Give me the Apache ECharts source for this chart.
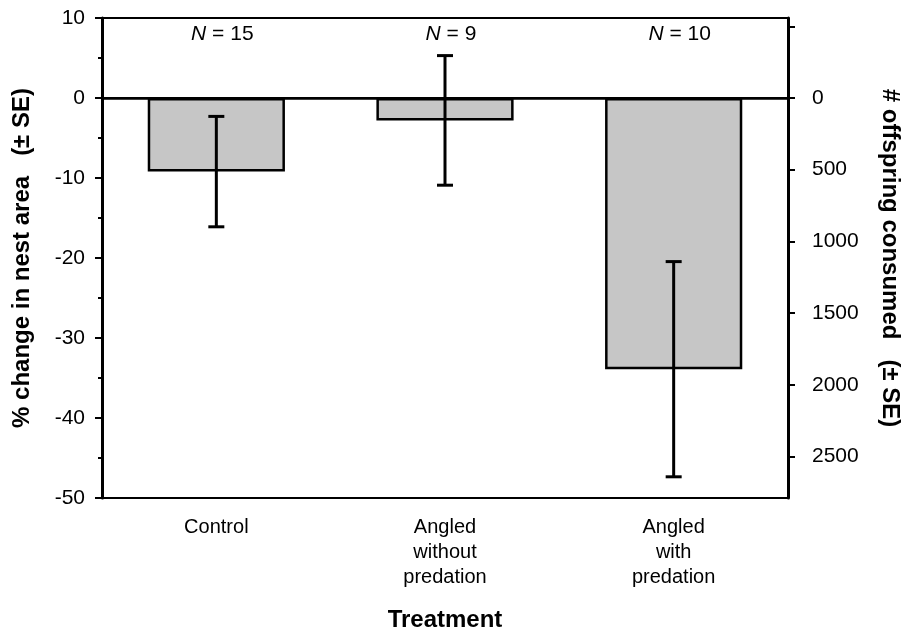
<!DOCTYPE html>
<html>
<head>
<meta charset="utf-8">
<script src="https://cdn.jsdelivr.net/npm/echarts@6/dist/echarts.min.js"></script>
<style>
  html, body { margin: 0; padding: 0; background: #fff; }
  #chart { width: 907px; height: 629px; }
</style>
</head>
<body>
<div id="chart"></div>
<script>
// data
const categories = ['Control', 'Angled\nwithout\npredation', 'Angled\nwith\npredation']
const meanChange = [-9.2, -2.8, -33.9]
const seChange = [6.9, 8.1, 13.45]
const sampleSizes = [15, 9, 10]
const rightLabels = [0, 500, 1000, 1500, 2000, 2500]
const rightTicks = [-500, 0, 500, 1000, 1500, 2000, 2500]

const font = 'Liberation Sans, Arial, Helvetica, sans-serif'

let chart = echarts.init(document.getElementById('chart'))

let errData = []
for (let i = 0; i < categories.length; i++) {
  errData.push([i, meanChange[i] - seChange[i], meanChange[i] + seChange[i]])
}
let nData = []
for (let i = 0; i < categories.length; i++) {
  nData.push([i, 8, sampleSizes[i]])
}

let option = {
  animation: false,
  textStyle: { fontFamily: font, color: '#000' },
  grid: {
    left: 102,
    right: 119,
    top: 18,
    bottom: 131,
    outerBoundsMode: 'none',
    containLabel: false,
    show: true,
    borderColor: '#000',
    borderWidth: 2
  },
  xAxis: {
    type: 'category',
    data: categories,
    name: 'Treatment',
    nameLocation: 'middle',
    nameGap: 110,
    nameTextStyle: { fontSize: 24, fontWeight: 'bold', color: '#000' },
    axisLine: { lineStyle: { color: '#000', width: 2.5 } },
    axisTick: { alignWithLabel: true, length: 7, lineStyle: { color: '#000', width: 2 } },
    axisLabel: { fontSize: 20, color: '#000', margin: 17, lineHeight: 25 }
  },
  yAxis: [
    {
      type: 'value',
      min: -50,
      max: 10,
      interval: 10,
      name: '% change in nest area   (± SE)',
      nameLocation: 'middle',
      nameGap: 68,
      nameRotate: 90,
      nameTextStyle: { fontSize: 24, fontWeight: 'bold', color: '#000' },
      axisLine: { show: true, lineStyle: { color: '#000', width: 3 } },
      axisTick: { show: true, length: 7, lineStyle: { color: '#000', width: 2 } },
      minorTick: { show: true, splitNumber: 2, length: 4, lineStyle: { color: '#000', width: 2 } },
      axisLabel: { fontSize: 21, color: '#000', margin: 17 },
      splitLine: { show: false }
    },
    {
      type: 'value',
      position: 'right',
      inverse: true,
      min: -558,
      max: 2790,
      name: '# offspring consumed   (± SE)',
      nameLocation: 'middle',
      nameGap: 90,
      nameRotate: -90,
      nameTextStyle: { fontSize: 24, fontWeight: 'bold', color: '#000' },
      axisLine: { show: true, lineStyle: { color: '#000', width: 3 } },
      axisTick: { show: true, length: 7, customValues: rightTicks, lineStyle: { color: '#000', width: 2 } },
      axisLabel: {
        fontSize: 21,
        color: '#000',
        margin: 24,
        customValues: rightLabels,
        formatter: function (v) { return String(v) }
      },
      splitLine: { show: false }
    }
  ],
  series: [
    {
      type: 'bar',
      data: meanChange,
      barCategoryGap: '40%',
      itemStyle: { color: '#c6c6c6', borderColor: '#000', borderWidth: 2.5 },
      markLine: {
        silent: true,
        symbol: 'none',
        label: { show: false },
        lineStyle: { color: '#000', width: 2, type: 'solid' },
        data: [{ yAxis: 0 }]
      }
    },
    {
      type: 'custom',
      data: errData,
      z: 5,
      renderItem: function (params, api) {
        let x = api.value(0)
        let lo = api.coord([x, api.value(1)])
        let hi = api.coord([x, api.value(2)])
        let cap = 8
        let style = { stroke: '#000', lineWidth: 3 }
        return {
          type: 'group',
          children: [
            { type: 'line', shape: { x1: lo[0], y1: lo[1], x2: hi[0], y2: hi[1] }, style: style },
            { type: 'line', shape: { x1: lo[0] - cap, y1: lo[1], x2: lo[0] + cap, y2: lo[1] }, style: style },
            { type: 'line', shape: { x1: hi[0] - cap, y1: hi[1], x2: hi[0] + cap, y2: hi[1] }, style: style }
          ]
        }
      }
    },
    {
      type: 'custom',
      data: nData,
      z: 6,
      renderItem: function (params, api) {
        let p = api.coord([api.value(0), api.value(1)])
        return {
          type: 'text',
          x: p[0] + 6,
          y: p[1],
          style: {
            text: '{i|N} = ' + api.value(2),
            align: 'center',
            verticalAlign: 'middle',
            fontFamily: font,
            fontSize: 21,
            fill: '#000',
            rich: { i: { fontStyle: 'italic', fontSize: 21, fontFamily: font, fill: '#000' } }
          }
        }
      }
    }
  ]
}

chart.setOption(option)
</script>
</body>
</html>
